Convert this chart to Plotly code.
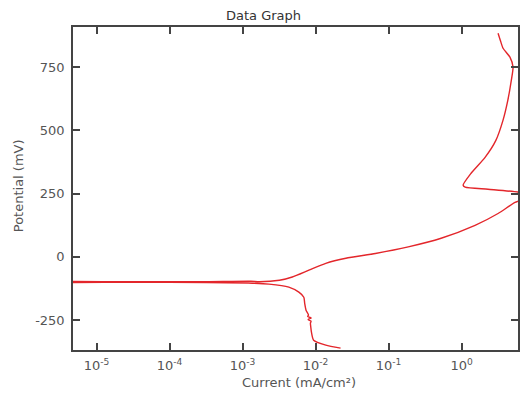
import plotly.graph_objects as go

# Polarization scan: potential (mV) and current density (mA/cm^2), in scan order
potential_mv = [
    -361, -349, -330, -300, -278, -262, -255, -248, -242, -236, -230, -211,
    -185, -160, -140, -120, -108, -104, -102, -101, -100,
    -99, -99, -98.5, -97, -99, -93, -80, -53, -26, -6, 13, 39, 73, 124,
    171, 215, 235, 252, 256, 267, 275, 283, 330, 393, 460, 540, 618,
    697, 750, 789, 824, 855, 883,
]
current_ma_cm2 = [
    2.2e-2, 1.38e-2, 9.4e-3, 8.8e-3, 8.6e-3, 8.5e-3, 8.7e-3, 7.9e-3, 8.7e-3, 7.8e-3, 8.0e-3, 7.4e-3,
    7.1e-3, 6.9e-3, 5.9e-3, 4.3e-3, 2.3e-3, 1.2e-3, 3.2e-4, 3.2e-5, 1e-6,
    1e-6, 3.2e-5, 3.2e-4, 1.3e-3, 1.7e-3, 3.2e-3, 4.8e-3, 8.1e-3, 1.38e-2, 2.6e-2, 6.6e-2, 0.186, 0.525, 1.53,
    3.16, 5.4, 7.9, 7.1, 5.9, 2.3, 1.12, 1.05, 1.35, 2.1, 2.95, 3.7, 4.3,
    4.8, 5.07, 4.6, 3.7, 3.4, 3.16,
]

x_tickvals = [1e-5, 1e-4, 1e-3, 1e-2, 1e-1, 1e0]
x_ticktext = ["10<sup>-5</sup>", "10<sup>-4</sup>", "10<sup>-3</sup>",
              "10<sup>-2</sup>", "10<sup>-1</sup>", "10<sup>0</sup>"]
y_tickvals = [-250, 0, 250, 500, 750]
y_ticktext = ["-250", "0", "250", "500", "750"]

FONT = "DejaVu Sans, Arial, sans-serif"

fig = go.Figure()
fig.add_trace(go.Scatter(
    x=current_ma_cm2, y=potential_mv, mode="lines",
    line=dict(color="#e3262b", width=1.4, shape="spline", smoothing=0.6),
    showlegend=False,
))

axis_common = dict(
    showline=True, linecolor="#444", linewidth=1.5, mirror="ticks",
    ticks="inside", ticklen=7, tickwidth=1.5, tickcolor="#444",
    showgrid=False, zeroline=False,
    tickfont=dict(family=FONT, size=13, color="#555"),
)

fig.update_layout(
    width=520, height=394,
    margin=dict(l=73, r=0, t=27, b=44),
    paper_bgcolor="white", plot_bgcolor="white",
    xaxis=dict(type="log", range=[-5.323, 0.773], tickvals=x_tickvals,
               ticktext=x_ticktext, ticklabelstandoff=3, **axis_common),
    yaxis=dict(range=[-368.5, 908], tickvals=y_tickvals, ticktext=y_ticktext,
               ticklabelstandoff=4, **axis_common),
    annotations=[
        dict(text="Data Graph", x=264, y=15, showarrow=False,
             font=dict(family=FONT, size=13, color="#333")),
        dict(text="Current (mA/cm²)", x=300, y=382, showarrow=False,
             font=dict(family=FONT, size=13, color="#555")),
        dict(text="Potential (mV)", x=18, y=186, textangle=-90, showarrow=False,
             font=dict(family=FONT, size=13, color="#555")),
    ],
)

# convert pixel positions of annotations into paper coordinates
pw, ph = 520 - 73 - 0, 394 - 27 - 44
for a in fig.layout.annotations:
    px, py = a.x, a.y
    a.xref = "paper"; a.yref = "paper"
    a.x = (px - 73) / pw
    a.y = (394 - 44 - py) / ph
    a.xanchor = "center"; a.yanchor = "middle"

fig.write_html("out.html")
